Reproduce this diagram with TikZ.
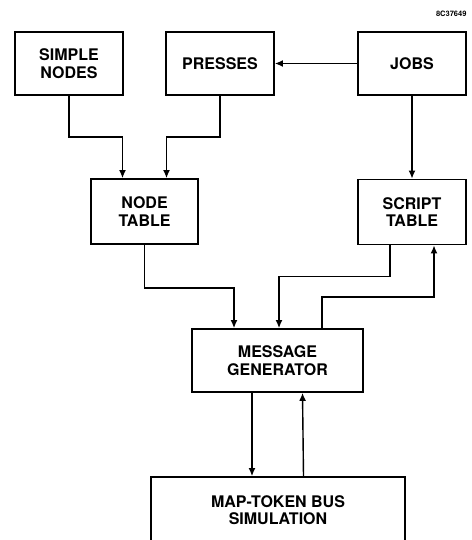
\documentclass[tikz,border=0pt]{standalone}
\usepackage{fontspec}
\setmainfont{TeX Gyre Heros}
\usetikzlibrary{arrows.meta}
\begin{document}
\begin{tikzpicture}[x=1pt,y=-1pt,
  block/.style={draw,line width=1.8pt,align=center,
    font=\bfseries\fontsize{16}{17.5}\selectfont},
  flow/.style={line width=1.4pt,-{Latex[length=8pt,width=7pt]}}]
\useasboundingbox (0,0) rectangle (471,540);
\node [font=\bfseries\fontsize{7.5}{8}\selectfont,anchor=east](Fig) at (470,14){8C37649};
\node [block,minimum width=108pt,minimum height=63pt](Simple) at (69,63.5){SIMPLE\\NODES};
\node [block,minimum width=108pt,minimum height=63pt](Presses) at (220,63.5){PRESSES};
\node [block,minimum width=108pt,minimum height=63pt](Jobs) at (412,63.5){JOBS};
\node [block,minimum width=107pt,minimum height=65pt](NodeTab) at (144.5,211.5){NODE\\TABLE};
\node [block,minimum width=108pt,minimum height=65pt](ScriptTab) at (412,212){SCRIPT\\TABLE};
\node [block,minimum width=171pt,minimum height=63pt](MsgGen) at (277.5,360.5){MESSAGE\\GENERATOR};
\node [block,minimum width=254pt,minimum height=66pt](Map) at (278,510){MAP-TOKEN BUS\\SIMULATION};
\draw [flow](Jobs) -- (Presses);
\draw [flow](Simple.south) -- ++(0,41) -| ([xshift=-22pt]NodeTab.north);
\draw [flow](Presses.south) -- ++(0,41) -| ([xshift=22pt]NodeTab.north);
\draw [flow](Jobs) -- (ScriptTab);
\draw [flow](NodeTab.south) -- ++(0,43) -| ([xshift=-43.5pt]MsgGen.north);
\draw [flow]([xshift=-22pt]ScriptTab.south) -- ++(0,31) -| ([xshift=1.5pt]MsgGen.north);
\draw [flow]([xshift=44.5pt]MsgGen.north) -- ++(0,-31) -| ([xshift=22pt]ScriptTab.south);
\draw [flow]([xshift=-25.5pt]MsgGen.south) -- ([xshift=-26pt]Map.north);
\draw [flow]([xshift=25.5pt]Map.north) -- ([xshift=25pt]MsgGen.south);
\end{tikzpicture}
\end{document}
